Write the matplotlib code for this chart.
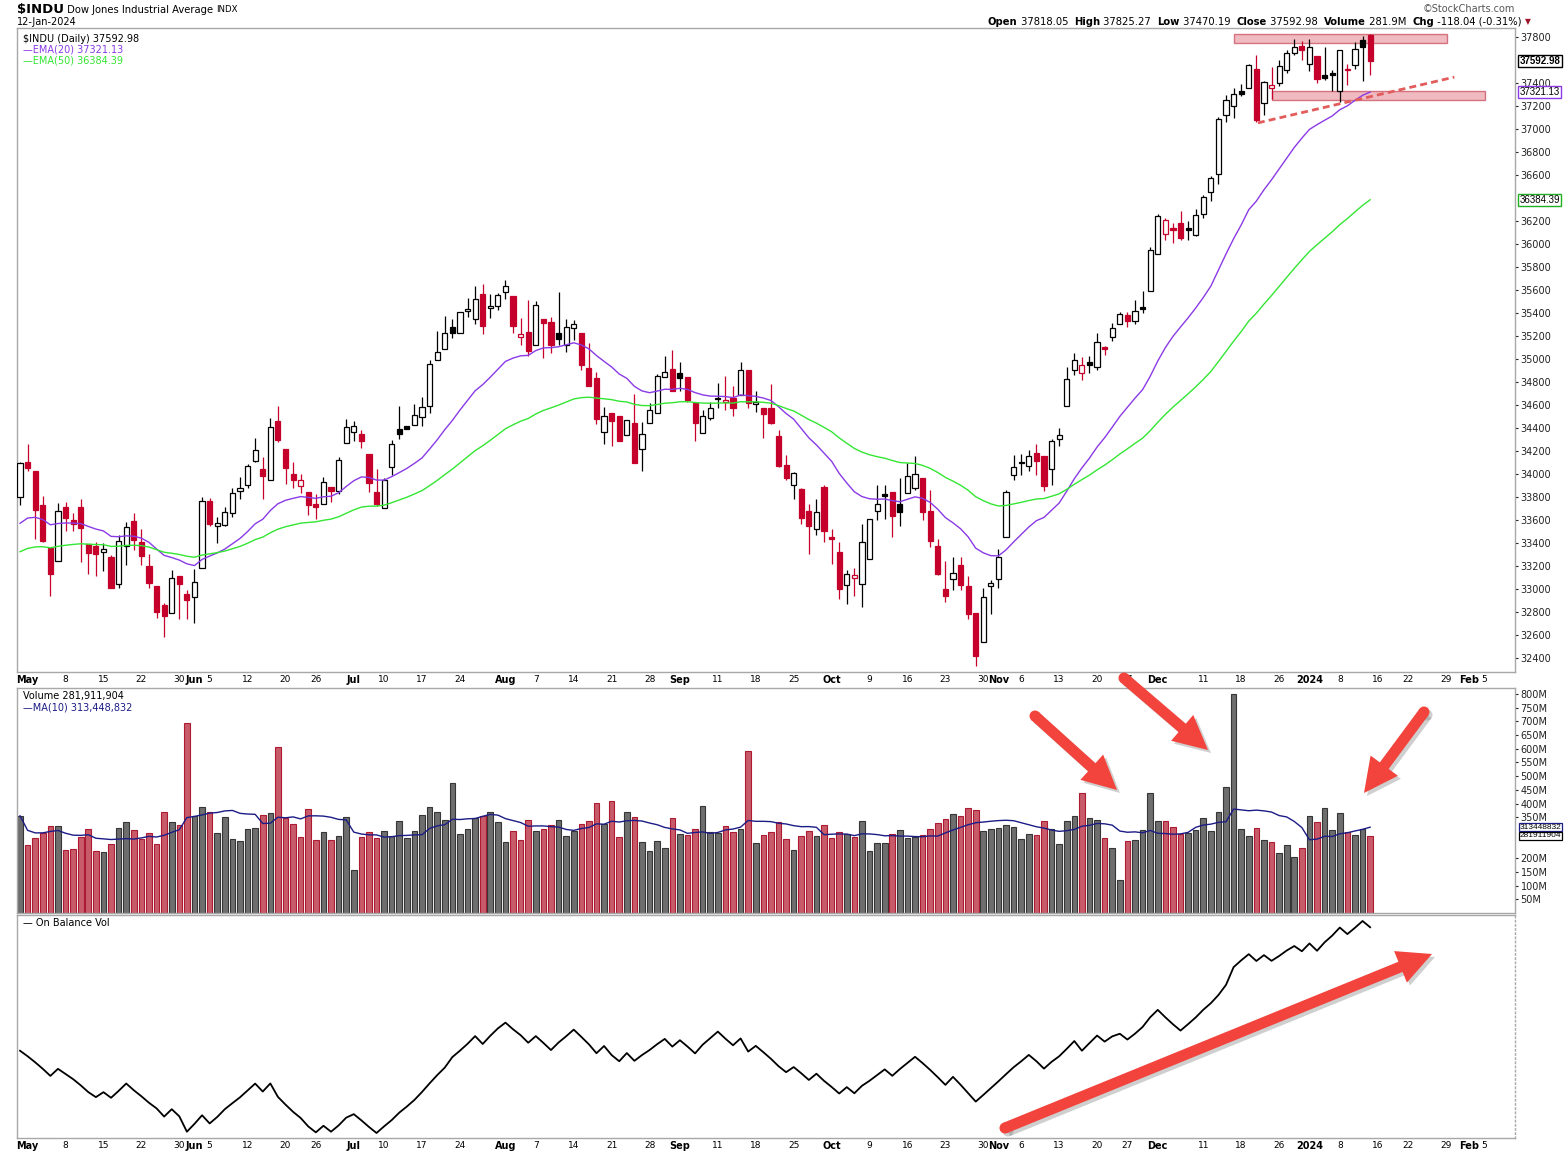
import numpy as np
import pandas as pd
import matplotlib
matplotlib.use('Agg')
import matplotlib.pyplot as plt
from matplotlib.patches import Rectangle, FancyArrow, Circle
from matplotlib.transforms import blended_transform_factory

# ---- data (Apr 28 2023 .. Jan 12 2024, daily) ----
opens = [33797, 34101, 34023, 33727, 33353, 33243, 33716, 33597, 33710, 33388,
         33371, 33321, 33275, 33040, 33377, 33588, 33411, 33197, 33023, 32858,
         32794, 33110, 32953, 32933, 33185, 33768, 33551, 33559, 33658, 33855,
         33907, 34116, 34046, 33951, 34464, 34214, 33997, 33898, 33840, 33736,
         33739, 33884, 33852, 34272, 34368, 34345, 34171, 33841, 33707, 34058,
         34394, 34415, 34429, 34499, 34595, 34995, 35090, 35276, 35229, 35421,
         35348, 35563, 35447, 35464, 35586, 35551, 35194, 35232, 35125, 35345,
         35325, 35229, 35119, 35273, 35224, 34919, 34832, 34368, 34534, 34502,
         34339, 34441, 34221, 34447, 34534, 34847, 34910, 34881, 34847, 34615,
         34354, 34490, 34652, 34626, 34664, 34687, 34902, 34612, 34577, 34577,
         34333, 34081, 33907, 33867, 33681, 33525, 33884, 33455, 33319, 33038,
         33099, 33046, 33258, 33681, 33823, 33846, 33736, 33838, 33875, 33962,
         33675, 33371, 32997, 33087, 33206, 33023, 32788, 32536, 33029, 33084,
         33455, 33994, 34099, 34073, 34186, 34154, 34040, 34300, 34587, 34901,
         34874, 34971, 34932, 35104, 35188, 35303, 35380, 35326, 35452, 35591,
         35916, 36089, 36142, 36184, 36142, 36077, 36261, 36452, 36606, 37123,
         37199, 37332, 37352, 37525, 37226, 37352, 37398, 37517, 37659, 37722,
         37563, 37632, 37467, 37487, 37326, 37510, 37552, 37772, 37818.05]
highs = [34104, 34258, 34023, 33811, 33353, 33751, 33753, 33658, 33780, 33388,
         33411, 33400, 33292, 33469, 33585, 33658, 33519, 33307, 33023, 32875,
         33162, 33110, 32988, 33171, 33803, 33791, 33629, 33710, 33875, 33977,
         34084, 34310, 34151, 34490, 34590, 34214, 34101, 34003, 33840, 33823,
         33977, 33884, 34151, 34475, 34464, 34380, 34171, 34041, 33962, 34293,
         34589, 34420, 34606, 34667, 34989, 35241, 35377, 35348, 35412, 35528,
         35638, 35650, 35563, 35571, 35685, 35551, 35354, 35511, 35508, 35345,
         35369, 35580, 35351, 35337, 35224, 35137, 34890, 34586, 34534, 34502,
         34473, 34699, 34450, 34615, 34870, 35029, 35079, 34977, 34847, 34615,
         34557, 34629, 34789, 34855, 34768, 34977, 34902, 34725, 34577, 34780,
         34380, 34162, 34020, 33881, 33736, 33780, 33904, 33519, 33406, 33162,
         33180, 33562, 33610, 33904, 33904, 33846, 33962, 34099, 34154, 33962,
         33858, 33432, 33243, 33275, 33275, 33110, 32788, 33006, 33075, 33345,
         33861, 34168, 34171, 34212, 34258, 34154, 34308, 34400, 34928, 35054,
         35016, 35024, 35227, 35112, 35311, 35407, 35411, 35514, 35594, 35974,
         36261, 36230, 36184, 36288, 36203, 36307, 36422, 36594, 37103, 37295,
         37352, 37391, 37563, 37640, 37421, 37536, 37602, 37686, 37782, 37762,
         37785, 37632, 37716, 37512, 37690, 37562, 37755, 37812, 37825.27]
lows = [33730, 34026, 33435, 33405, 32939, 33243, 33504, 33504, 33235, 33130,
        33113, 33156, 33005, 33005, 33208, 33339, 33208, 33005, 32745, 32582,
        32794, 32739, 32739, 32701, 33185, 33548, 33400, 33548, 33629, 33783,
        33881, 34101, 33782, 33951, 34278, 33913, 33881, 33832, 33643, 33609,
        33739, 33753, 33823, 34272, 34287, 34229, 33841, 33722, 33707, 33992,
        34305, 34392, 34429, 34418, 34528, 34995, 35090, 35180, 35229, 35369,
        35302, 35218, 35360, 35427, 35519, 35227, 35122, 35029, 35125, 35012,
        35050, 35122, 35064, 35166, 34905, 34766, 34435, 34258, 34244, 34287,
        34339, 34096, 34026, 34447, 34534, 34847, 34722, 34722, 34630, 34287,
        34354, 34470, 34571, 34557, 34505, 34687, 34571, 34536, 34310, 34435,
        34058, 33948, 33783, 33565, 33301, 33470, 33412, 33214, 32913, 32869,
        32939, 32843, 33258, 33600, 33609, 33452, 33548, 33838, 33858, 33597,
        33362, 33119, 32884, 32991, 32991, 32739, 32330, 32536, 32782, 33009,
        33455, 33951, 33991, 34023, 33991, 33855, 33905, 34242, 34587, 34863,
        34813, 34882, 34901, 35035, 35158, 35303, 35277, 35303, 35399, 35591,
        35916, 36031, 36011, 36031, 36031, 36070, 36230, 36376, 36521, 37057,
        37092, 37287, 37352, 37057, 37123, 37257, 37372, 37486, 37640, 37602,
        37506, 37402, 37422, 37327, 37237, 37382, 37524, 37417, 37470.19]
closes = [34098.16, 34051.70, 33684.53, 33414.24, 33127.74, 33674.38, 33618.69, 33561.81,
          33531.33, 33309.51, 33300.62, 33348.60, 33012.14, 33420.77, 33535.91, 33426.63,
          33286.58, 33055.51, 32799.92, 32764.65, 33093.34, 33042.78, 32908.27, 33061.57,
          33762.76, 33562.86, 33573.28, 33665.02, 33833.61, 33876.78, 34066.33, 34212.12,
          33979.33, 34408.06, 34299.12, 34053.87, 33951.52, 33946.71, 33727.43, 33714.71,
          33926.74, 33852.66, 34122.42, 34407.60, 34418.47, 34288.64, 33922.26, 33734.88,
          33944.40, 34261.42, 34347.43, 34395.14, 34509.03, 34585.35, 34951.93, 35061.21,
          35225.18, 35227.69, 35411.24, 35438.07, 35520.12, 35282.72, 35459.29, 35559.53,
          35630.68, 35282.52, 35215.89, 35065.62, 35473.13, 35314.49, 35123.36, 35176.15,
          35281.40, 35307.63, 34946.39, 34765.74, 34474.83, 34500.66, 34463.69, 34288.83,
          34472.98, 34099.42, 34346.90, 34559.98, 34852.67, 34890.24, 34721.91, 34837.71,
          34641.97, 34443.19, 34500.73, 34576.59, 34663.72, 34645.99, 34575.53, 34907.11,
          34618.24, 34624.30, 34517.73, 34440.88, 34070.42, 33963.84, 34006.88, 33618.88,
          33550.27, 33666.34, 33507.50, 33433.35, 33002.38, 33129.55, 33119.57, 33407.58,
          33604.65, 33739.30, 33804.87, 33631.14, 33670.29, 33984.54, 33997.65, 33665.08,
          33414.17, 33127.28, 32936.41, 33141.38, 33035.93, 32784.30, 32417.59, 32928.96,
          33052.87, 33274.58, 33839.08, 34061.32, 34095.86, 34152.60, 34112.27, 33891.94,
          34283.10, 34337.87, 34827.70, 34991.21, 34945.47, 34947.28, 35151.04, 35088.29,
          35273.03, 35390.15, 35333.47, 35416.98, 35430.42, 35950.89, 36245.50, 36204.44,
          36124.56, 36054.43, 36117.38, 36247.87, 36404.93, 36577.94, 37090.24, 37248.35,
          37305.16, 37306.02, 37557.92, 37082.00, 37404.35, 37385.97, 37545.33, 37656.52,
          37710.10, 37689.54, 37715.04, 37430.19, 37440.34, 37466.11, 37683.01, 37525.16,
          37695.73, 37711.02, 37592.98]
# volume in millions
volume = [355, 249, 274, 293, 319, 319, 231, 235, 278, 306, 227, 224, 253, 311, 333, 304,
          272, 293, 253, 370, 333, 322, 694, 355, 388, 370, 293, 351, 271, 264, 308, 311,
          359, 366, 607, 348, 326, 278, 381, 267, 297, 267, 282, 351, 158, 278, 297, 275,
          300, 282, 337, 275, 300, 359, 388, 370, 340, 475, 289, 308, 348, 355, 370, 333,
          260, 300, 267, 340, 300, 308, 322, 340, 282, 300, 326, 337, 402, 326, 410, 278,
          370, 351, 260, 227, 264, 238, 348, 289, 286, 308, 392, 297, 293, 319, 297, 308,
          592, 257, 286, 297, 333, 271, 231, 282, 300, 282, 322, 275, 297, 289, 278, 337,
          227, 257, 257, 289, 304, 275, 278, 286, 308, 329, 344, 362, 355, 384, 377, 300,
          308, 309, 320, 313, 269, 287, 284, 335, 306, 251, 335, 353, 437, 346, 338, 273,
          236, 119, 262, 265, 302, 437, 335, 335, 313, 287, 291, 302, 346, 298, 368, 459,
          799, 306, 280, 309, 265, 258, 218, 247, 203, 236, 353, 331, 382, 302, 364, 295,
          284, 306, 281.911904]

ema20_start = 33571
ema50_start = 33324

holidays = ['2023-05-29', '2023-06-19', '2023-07-04', '2023-09-04', '2023-11-23',
            '2023-12-25', '2024-01-01', '2024-01-15']
tick_dates = [('2023-05-01', 'May'), ('2023-05-08', '8'), ('2023-05-15', '15'), ('2023-05-22', '22'),
              ('2023-05-30', '30'), ('2023-06-01', 'Jun'), ('2023-06-05', '5'), ('2023-06-12', '12'),
              ('2023-06-20', '20'), ('2023-06-26', '26'), ('2023-07-03', 'Jul'), ('2023-07-10', '10'),
              ('2023-07-17', '17'), ('2023-07-24', '24'), ('2023-08-01', 'Aug'), ('2023-08-07', '7'),
              ('2023-08-14', '14'), ('2023-08-21', '21'), ('2023-08-28', '28'), ('2023-09-01', 'Sep'),
              ('2023-09-11', '11'), ('2023-09-18', '18'), ('2023-09-25', '25'), ('2023-10-02', 'Oct'),
              ('2023-10-09', '9'), ('2023-10-16', '16'), ('2023-10-23', '23'), ('2023-10-30', '30'),
              ('2023-11-01', 'Nov'), ('2023-11-06', '6'), ('2023-11-13', '13'), ('2023-11-20', '20'),
              ('2023-11-27', '27'), ('2023-12-01', 'Dec'), ('2023-12-11', '11'), ('2023-12-18', '18'),
              ('2023-12-26', '26'), ('2024-01-02', '2024'), ('2024-01-08', '8'), ('2024-01-16', '16'),
              ('2024-01-22', '22'), ('2024-01-29', '29'), ('2024-02-01', 'Feb'), ('2024-02-05', '5')]
bold_labels = {'May', 'Jun', 'Jul', 'Aug', 'Sep', 'Oct', 'Nov', 'Dec', '2024', 'Feb'}

# ---- derived series ----
o = np.array(opens, float)
h = np.array(highs, float)
l = np.array(lows, float)
c = np.array(closes, float)
v = np.array(volume, float)
n = len(c)
x = np.arange(n)
prev = np.r_[o[0], c[:-1]]
up = c >= prev


def ema(values, span, start):
    a = 2.0 / (span + 1)
    out = [start]
    for val in values[1:]:
        out.append(out[-1] + a * (val - out[-1]))
    return np.array(out)


ema20 = ema(c, 20, ema20_start)
ema50 = ema(c, 50, ema50_start)
vol_ma = pd.Series(v).rolling(10, min_periods=1).mean().values
obv = np.cumsum(np.where(up, v, -v))

days = pd.bdate_range('2023-04-28', '2024-02-09')
days = days[~days.isin(pd.to_datetime(holidays))]
day_index = {d.strftime('%Y-%m-%d'): i for i, d in enumerate(days)}
tick_pos = [day_index[d] for d, _ in tick_dates]
tick_txt = [t for _, t in tick_dates]

# ---- figure ----
W, H = 1565, 1157
plt.rcParams['font.family'] = ['DejaVu Sans']
fig = plt.figure(figsize=(W / 100, H / 100), dpi=100)


def box(left, top, right, bottom):
    return [left / W, 1 - bottom / H, (right - left) / W, (bottom - top) / H]


ax_p = fig.add_axes(box(17, 28, 1515, 672))
ax_v = fig.add_axes(box(17, 688, 1515, 913))
ax_o = fig.add_axes(box(17, 915, 1515, 1138))

RED = '#c4002b'
spine_col = '#a8a8a8'
for ax in (ax_p, ax_v, ax_o):
    ax.set_xlim(-0.4, 197.1)
    for s in ax.spines.values():
        s.set_color(spine_col)
        s.set_linewidth(1.0)
    ax.tick_params(axis='x', length=0, labelsize=6.5, pad=2)
    ax.yaxis.tick_right()
    ax.tick_params(axis='y', length=2, labelsize=7, pad=2, colors='#222222')

# candles
edge_cols = np.where(up, 'black', RED)
hollow = c >= o
face_cols = [('white' if hollow[i] else edge_cols[i]) for i in range(n)]
ax_p.vlines(x, l, h, colors=edge_cols, linewidth=0.9, zorder=2)
body_lo = np.minimum(o, c)
body_h = np.maximum(np.abs(c - o), 4)
ax_p.bar(x, body_h, bottom=body_lo, width=0.68, color=face_cols, edgecolor=edge_cols,
         linewidth=0.9, zorder=3)
ax_p.plot(x, ema20, color='#8a3ae6', lw=1.0, zorder=4)
ax_p.plot(x, ema50, color='#33e633', lw=1.0, zorder=4)
ax_p.set_ylim(32278, 37878)
price_ticks = [t for t in range(32400, 37801, 200) if t not in (37600, 36400)]
ax_p.set_yticks(price_ticks)
ax_p.set_yticklabels([str(t) for t in price_ticks])

# annotations on price panel
zone_top = (160.0, 188.1, 37750, 37827)
zone_bot = (165.0, 193.2, 37252, 37329)
for x0, x1, y0, y1 in (zone_top, zone_bot):
    ax_p.add_patch(Rectangle((x0, y0), x1 - x0, y1 - y0, facecolor='#eaa3ab', edgecolor='#c9505f',
                             linewidth=1.0, alpha=0.75, zorder=1))
trend_x = [163.2, 189.1]
trend_y = [37053, 37451]
ax_p.plot(trend_x, trend_y, color='#e25c5c', lw=2.0, ls=(0, (2.5, 1.5)), zorder=5)

# volume
vcols = np.where(up, '#6e6e6e', '#c75b6a')
vedges = np.where(up, '#363636', '#ad1b33')
ax_v.bar(x, v, width=0.74, color=vcols, edgecolor=vedges, linewidth=0.8, zorder=2)
ax_v.plot(x, vol_ma, color='#1c1c86', lw=1.0, zorder=3)
ax_v.set_ylim(0, 822)
vt = [t for t in range(50, 801, 50) if t not in (300, 250)]
ax_v.set_yticks(vt)
ax_v.set_yticklabels([f'{t}M' for t in vt])
ax_v.set_xticks([])

# OBV
ax_o.plot(x, obv, color='black', lw=1.3)
rng = obv.max() - obv.min()
ax_o.set_ylim(obv.min() - rng * 5 / 212, obv.max() + rng * 6 / 212)
ax_o.set_yticks([])
ax_o.spines['right'].set_linestyle((0, (1, 2)))

for ax in (ax_p, ax_o):
    ax.set_xticks(tick_pos)
    ax.set_xticklabels(tick_txt)
    for lab in ax.get_xticklabels():
        if lab.get_text() in bold_labels:
            lab.set_fontweight('bold')
            lab.set_fontsize(7)

# right side value tags
tag_font = ['Liberation Sans', 'DejaVu Sans']
tp = blended_transform_factory(ax_p.transAxes, ax_p.transData)
for val, txt, col, wt in ((closes[-1], '37592.98', 'black', 'bold'),
                          (ema20[-1], '37321.13', '#8a3ae6', 'normal'),
                          (ema50[-1], '36384.39', '#22b022', 'normal')):
    ax_p.text(1.003, val, txt, transform=tp, ha='left', va='center', fontsize=7, fontweight=wt,
              family=tag_font, color='black', clip_on=False, zorder=10,
              bbox=dict(boxstyle='square,pad=0.12', facecolor='white', edgecolor=col, linewidth=1.0))
tv = blended_transform_factory(ax_v.transAxes, ax_v.transData)
for val, txt, col in ((vol_ma[-1], '313448832', '#1c1c86'),
                      (v[-1], '281911904', 'black')):
    ax_v.text(1.003, val, txt, transform=tv, ha='left', va='center', fontsize=6,
              family=tag_font, color='black', clip_on=False, zorder=10,
              bbox=dict(boxstyle='square,pad=0.08', facecolor='white', edgecolor=col, linewidth=0.9))

# legends inside panels
ax_p.text(0.004, 0.991, '$INDU (Daily) 37592.98', transform=ax_p.transAxes, fontsize=7,
          va='top', ha='left', color='black')
ax_p.text(0.004, 0.974, '\u2014EMA(20) 37321.13', transform=ax_p.transAxes, fontsize=7,
          va='top', ha='left', color='#8a3ae6')
ax_p.text(0.004, 0.957, '\u2014EMA(50) 36384.39', transform=ax_p.transAxes, fontsize=7,
          va='top', ha='left', color='#33e633')
ax_v.text(0.004, 0.985, 'Volume 281,911,904', transform=ax_v.transAxes, fontsize=7,
          va='top', ha='left', color='black')
ax_v.text(0.004, 0.935, '\u2014MA(10) 313,448,832', transform=ax_v.transAxes, fontsize=7,
          va='top', ha='left', color='#1c1c86')
ax_o.text(0.004, 0.985, '\u2014 On Balance Vol', transform=ax_o.transAxes, fontsize=7,
          va='top', ha='left', color='black')

# overlay in pixel coordinates for header and arrows
ov = fig.add_axes([0, 0, 1, 1], zorder=20)
ov.set_xlim(0, W)
ov.set_ylim(H, 0)
ov.axis('off')
ov.patch.set_alpha(0)
renderer = fig.canvas.get_renderer()


def run_text(x0, y0, parts):
    xpos = x0
    for txt, size, wt, col in parts:
        t = ov.text(xpos, y0, txt, fontsize=size, fontweight=wt, color=col, va='center', ha='left')
        xpos += t.get_window_extent(renderer).width
    return xpos


run_text(17, 10, [('$INDU', 9.5, 'bold', 'black'), (' Dow Jones Industrial Average ', 7.2, 'normal', 'black'),
                  ('INDX', 6.2, 'normal', 'black')])
ov.text(17, 22, '12-Jan-2024', fontsize=7, va='center', ha='left')
ov.text(1515, 9, '\u00a9StockCharts.com', fontsize=7, va='center', ha='right', color='#555555')

pieces = [('Open', 7.2, 'bold', 'black'), (' 37818.05  ', 7.2, 'normal', 'black'),
          ('High', 7.2, 'bold', 'black'), (' 37825.27  ', 7.2, 'normal', 'black'),
          ('Low', 7.2, 'bold', 'black'), (' 37470.19  ', 7.2, 'normal', 'black'),
          ('Close', 7.2, 'bold', 'black'), (' 37592.98  ', 7.2, 'normal', 'black'),
          ('Volume', 7.2, 'bold', 'black'), (' 281.9M  ', 7.2, 'normal', 'black'),
          ('Chg', 7.2, 'bold', 'black'), (' -118.04 (-0.31%) ', 7.2, 'normal', 'black'),
          ('\u25bc', 5.5, 'normal', '#a0142c')]
run_text(988, 22, pieces)


def big_arrow(x0, y0, x1, y1):
    dx, dy = x1 - x0, y1 - y0
    kw = dict(width=11, head_width=34, head_length=34, length_includes_head=True)
    ov.add_patch(FancyArrow(x0 + 3, y0 + 3, dx, dy, color='#777777', alpha=0.35, ec='none', **kw))
    ov.add_patch(Circle((x0 + 3, y0 + 3), 5.5, color='#777777', alpha=0.35, ec='none'))
    ov.add_patch(FancyArrow(x0, y0, dx, dy, color='#f2443c', ec='none', **kw))
    ov.add_patch(Circle((x0, y0), 5.5, color='#f2443c', ec='none'))


big_arrow(1035, 716, 1117, 790)
big_arrow(1124, 678, 1208, 750)
big_arrow(1424, 712, 1364, 793)
big_arrow(1005, 1128, 1432, 954)

fig.savefig('out.png', dpi=100)
